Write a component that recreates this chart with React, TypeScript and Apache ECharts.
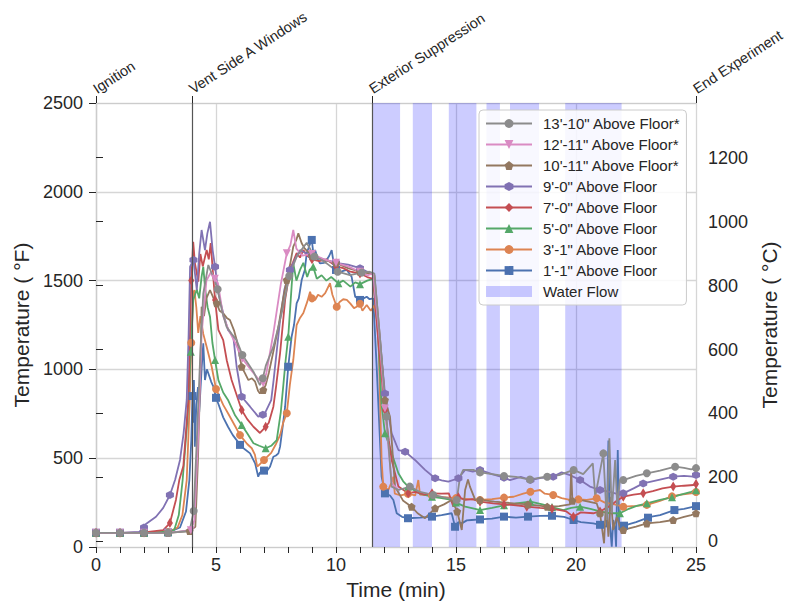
import React, { useEffect, useRef } from "react";
import * as echarts from "echarts";

// ---- Events (top axis) ----
const eventTimes = [0, 4, 11.5, 25];
const eventLabels = ["Ignition", "Vent Side A Windows", "Exterior Suppression", "End Experiment"];

// ---- Water flow intervals (min) ----
const waterFlow: [number, number][] = [
  [11.5, 12.67], [13.2, 14.0], [14.7, 15.85], [16.27, 16.83], [17.25, 18.46], [19.55, 21.9],
];

const fTicks = [0, 500, 1000, 1500, 2000, 2500];
const cTicks = [0, 200, 400, 600, 800, 1000, 1200];

// ---- Temperatures (°F) vs time (min) ----
const tc1_1: [number, number][] = [
  [0, 80], [1, 80], [2, 80], [3, 82], [3.5, 110], [3.75, 200], [3.89, 377], [3.97, 600], [4.02, 850], [4.05, 700],
  [4.08, 940], [4.12, 565], [4.18, 800], [4.25, 900], [4.3, 760], [4.4, 1000], [4.47, 1147], [4.54, 940], [4.62, 1000],
  [4.68, 978], [4.8, 930], [4.89, 903], [5, 840], [5.1, 805], [5.3, 730], [5.5, 677], [5.7, 630], [5.86, 602], [6, 575],
  [6.2, 550], [6.42, 527], [6.63, 471], [6.76, 396], [6.83, 420], [6.9, 415], [7, 430], [7.1, 424], [7.25, 452],
  [7.39, 508], [7.5, 515], [7.6, 527], [7.67, 565], [7.8, 700], [7.88, 790], [8.01, 1015], [8.15, 1184], [8.25, 1250],
  [8.36, 1372], [8.45, 1400], [8.57, 1503], [8.7, 1560], [8.78, 1654], [8.9, 1700], [8.99, 1729], [9.06, 1650],
  [9.13, 1672], [9.25, 1620], [9.33, 1597], [9.5, 1600], [9.61, 1616], [9.72, 1640], [9.82, 1672], [9.9, 1600],
  [10, 1560], [10.1, 1541], [10.3, 1555], [10.45, 1560], [10.65, 1522], [10.8, 1409], [11, 1391], [11.15, 1400],
  [11.28, 1409], [11.4, 1395], [11.55, 1400], [11.7, 1000], [11.9, 396], [12.04, 302], [12.25, 290], [12.39, 265],
  [12.53, 190], [12.75, 170], [13, 162], [13.5, 165], [14, 171], [14.4, 180], [14.82, 190], [14.96, 114], [15.1, 140],
  [15.24, 133], [15.45, 150], [15.65, 152], [16, 155], [16.5, 160], [17, 171], [17.5, 165], [18, 171], [18.5, 175],
  [19, 176], [19.5, 170], [19.9, 152], [20.2, 140], [20.72, 133], [21, 125], [21.28, 114], [21.35, 600], [21.4, 150],
  [21.49, 2], [21.55, 152], [21.63, 100], [21.67, 2], [21.74, 546], [21.8, 96], [21.9, 114], [22, 120], [22.5, 140],
  [23, 165], [23.15, 171], [23.5, 180], [24.1, 208], [24.5, 215], [25, 230],
];

const tc3_1: [number, number][] = [
  [0, 80], [1, 80], [2, 80], [3, 84], [3.4, 110], [3.6, 180], [3.78, 377], [3.9, 800], [3.97, 1150], [4.05, 1430],
  [4.1, 1447], [4.18, 1350], [4.26, 1205], [4.35, 1300], [4.47, 1200], [4.61, 1128], [4.82, 1015], [5, 890],
  [5.3, 800], [5.5, 753], [5.8, 680], [6, 630], [6.3, 580], [6.49, 556], [6.62, 520], [6.72, 452], [6.85, 470],
  [7, 490], [7.3, 530], [7.5, 580], [7.67, 630], [7.8, 700], [7.95, 753], [8.08, 916], [8.22, 1053], [8.36, 1250],
  [8.5, 1290], [8.64, 1318], [8.8, 1380], [8.92, 1437], [9, 1400], [9.13, 1391], [9.25, 1420], [9.4, 1409],
  [9.55, 1430], [9.75, 1485], [9.85, 1420], [10.03, 1353], [10.15, 1380], [10.3, 1395], [10.45, 1391], [10.6, 1370],
  [10.75, 1345], [10.86, 1353], [11, 1370], [11.1, 1330], [11.28, 1363], [11.45, 1330], [11.6, 1360], [11.76, 1240],
  [11.9, 490], [11.97, 340], [12.1, 330], [12.18, 321], [12.3, 360], [12.39, 396], [12.45, 300], [12.7, 290],
  [13, 300], [13.3, 290], [13.43, 377], [13.5, 295], [14, 290], [14.5, 280], [15, 275], [15.5, 270], [16, 265],
  [16.5, 270], [17, 278], [17.4, 283], [17.8, 300], [18.1, 311], [18.5, 321], [18.7, 300], [19.05, 293], [19.4, 275],
  [19.75, 265], [20.1, 268], [20.45, 265], [20.86, 274], [21.2, 250], [21.6, 240], [21.97, 227], [22.5, 232],
  [22.95, 237], [23.5, 260], [24, 285], [24.3, 293], [24.8, 302], [25, 310],
];

const tc5_0: [number, number][] = [
  [0, 80], [1, 80], [2, 80], [3, 86], [3.26, 96], [3.45, 180], [3.61, 377], [3.8, 700], [3.95, 1100], [4.05, 1391],
  [4.2, 1450], [4.3, 1400], [4.4, 1522], [4.47, 1578], [4.55, 1450], [4.65, 1350], [4.75, 1297], [4.85, 1150],
  [4.96, 1053], [5.1, 940], [5.3, 870], [5.5, 828], [5.8, 740], [6.07, 687], [6.3, 640], [6.56, 584], [6.8, 570],
  [7.07, 556], [7.3, 570], [7.53, 602], [7.7, 760], [7.8, 903], [7.9, 1050], [8.01, 1184], [8.15, 1466], [8.22, 1597],
  [8.35, 1500], [8.5, 1560], [8.64, 1600], [8.8, 1520], [8.9, 1560], [9.05, 1578], [9.2, 1510], [9.4, 1530],
  [9.6, 1500], [9.8, 1520], [10.1, 1485], [10.3, 1500], [10.6, 1466], [10.8, 1490], [11, 1480], [11.3, 1500],
  [11.55, 1510], [11.75, 1200], [11.9, 800], [12.04, 640], [12.2, 580], [12.32, 527], [12.6, 415], [12.8, 370],
  [13.01, 340], [13.5, 300], [14, 283], [14.4, 275], [14.82, 265], [15, 250], [15.38, 227], [15.8, 215], [16, 208],
  [16.5, 220], [17, 235], [17.5, 245], [18.1, 255], [18.6, 240], [19, 225], [19.47, 208], [19.8, 220], [20.17, 227],
  [20.6, 215], [21, 200], [21.4, 190], [21.83, 190], [22.2, 215], [22.5, 230], [22.95, 246], [23.5, 265], [24, 280],
  [24.33, 293], [24.8, 311], [25, 320],
];

const tc7_0: [number, number][] = [
  [0, 80], [1, 80], [2, 82], [2.8, 95], [3.08, 135], [3.33, 265], [3.47, 377], [3.64, 456], [3.85, 827], [3.97, 1500],
  [4.05, 1719], [4.12, 1600], [4.26, 1494], [4.35, 1650], [4.45, 1580], [4.61, 1672], [4.7, 1620], [4.78, 1711],
  [4.87, 1550], [4.96, 1391], [5.1, 1222], [5.3, 1165], [5.45, 1050], [5.65, 940], [5.85, 860], [6.07, 771],
  [6.3, 720], [6.56, 677], [6.83, 642], [7.07, 677], [7.2, 700], [7.39, 790], [7.5, 900], [7.67, 1092], [7.88, 1391],
  [8.08, 1560], [8.2, 1600], [8.36, 1655], [8.5, 1630], [8.64, 1672], [8.8, 1640], [9, 1620], [9.3, 1610], [9.6, 1620],
  [10, 1580], [10.3, 1570], [10.6, 1550], [11, 1540], [11.3, 1520], [11.55, 1510], [11.8, 1100], [12.04, 771],
  [12.2, 600], [12.32, 490], [12.6, 340], [13.01, 302], [13.3, 310], [13.7, 295], [14, 302], [14.4, 300], [14.7, 302],
  [14.89, 227], [15.1, 280], [15.38, 265], [15.7, 270], [16, 255], [16.55, 246], [17, 240], [17.5, 235], [17.95, 227],
  [18.5, 220], [19, 215], [19.33, 208], [19.6, 200], [19.89, 171], [20.2, 195], [20.72, 190], [21, 200], [21.4, 230],
  [21.7, 260], [21.97, 283], [22.4, 295], [22.8, 302], [23.2, 315], [23.6, 330], [24.05, 340], [24.5, 345],
  [24.9, 349], [25, 355],
];

const tc9_0: [number, number][] = [
  [0, 80], [1, 80], [1.8, 85], [2, 110], [2.08, 130], [2.5, 170], [2.8, 220], [3.08, 293], [3.3, 380], [3.5, 490],
  [3.65, 640], [3.78, 828], [3.86, 1200], [3.92, 1578], [4.06, 1616], [4.2, 1447], [4.3, 1650], [4.4, 1785],
  [4.54, 1672], [4.64, 1766], [4.75, 1831], [4.86, 1672], [4.96, 1578], [5.1, 1428], [5.3, 1316], [5.5, 1222],
  [5.72, 1184], [5.86, 1015], [6.07, 846], [6.42, 790], [6.76, 734], [6.95, 745], [7.07, 762], [7.3, 827], [7.4, 940],
  [7.67, 1278], [7.85, 1450], [8.08, 1560], [8.3, 1620], [8.5, 1672], [8.8, 1650], [9, 1640], [9.5, 1620], [10, 1600],
  [10.5, 1590], [11, 1570], [11.3, 1550], [11.55, 1540], [11.8, 1200], [12.04, 865], [12.32, 640], [12.6, 546],
  [12.88, 537], [13.29, 490], [13.71, 434], [14.13, 387], [14.4, 375], [14.68, 368], [15.1, 387], [15.38, 434],
  [15.7, 425], [16, 434], [16.5, 410], [17, 390], [17.25, 377], [17.7, 395], [18.1, 377], [18.6, 390], [19.05, 396],
  [19.4, 420], [19.75, 405], [20.17, 377], [20.58, 340], [21, 321], [21.4, 310], [21.83, 295], [21.97, 302],
  [22.4, 330], [22.8, 358], [23.5, 380], [24.05, 396], [24.5, 400], [24.9, 396], [25, 405],
];

const tc10_11: [number, number][] = [
  [0, 80], [1, 80], [2, 80], [3, 80], [3.9, 90], [4.14, 114], [4.25, 500], [4.35, 1000], [4.4, 1353], [4.5, 1300],
  [4.6, 1400], [4.75, 1447], [4.9, 1400], [5.03, 1372], [5.15, 1330], [5.3, 1316], [5.45, 1290], [5.58, 1278],
  [5.75, 1220], [5.86, 1165], [6.07, 1015], [6.2, 980], [6.35, 940], [6.5, 950], [6.63, 931], [6.75, 880], [6.83, 865],
  [6.97, 884], [7.07, 912], [7.2, 980], [7.39, 1100], [7.6, 1240], [7.8, 1400], [7.95, 1503], [8.1, 1600],
  [8.22, 1691], [8.35, 1730], [8.43, 1766], [8.57, 1710], [8.7, 1680], [9, 1640], [9.5, 1615], [10, 1600],
  [10.5, 1570], [11, 1550], [11.4, 1540], [11.6, 1530], [11.85, 1150], [12.04, 828], [12.25, 734], [12.46, 340],
  [12.8, 260], [13.15, 227], [13.4, 190], [13.71, 162], [14.13, 218], [14.5, 240], [14.82, 265], [15.05, 200],
  [15.24, 96], [15.38, 321], [15.5, 380], [15.58, 340], [15.8, 265], [16, 265], [16.6, 255], [17.4, 246], [18, 240],
  [18.8, 227], [19.3, 230], [19.75, 240], [19.8, 434], [19.85, 260], [20.17, 265], [20.86, 246], [21, 190],
  [21.17, 21], [21.25, 265], [21.35, 58], [21.45, 283], [21.55, 96], [21.7, 171], [21.83, 114], [21.97, 96],
  [22.5, 115], [22.95, 133], [23.5, 140], [24.05, 152], [24.5, 170], [24.8, 180], [25, 190],
];

const tc12_11: [number, number][] = [
  [0, 80], [1, 80], [2, 80], [3, 80], [3.95, 95], [4.1, 150], [4.25, 600], [4.4, 1200], [4.6, 1500], [4.8, 1550],
  [4.95, 1510], [5.08, 1486], [5.3, 1300], [5.5, 1230], [5.8, 1150], [6.1, 1060], [6.5, 990], [6.8, 940],
  [6.97, 922], [7.1, 980], [7.39, 1203], [7.7, 1480], [7.95, 1654], [8.1, 1700], [8.22, 1785], [8.35, 1680],
  [8.6, 1640], [9, 1650], [9.5, 1620], [10, 1600], [10.5, 1580], [11, 1550], [11.3, 1530], [11.55, 1540],
  [11.8, 1200], [12.04, 780], [12.32, 360], [12.6, 321],
];

const tc13_10: [number, number][] = [
  [0, 80], [1, 80], [2, 80], [3, 80], [3.9, 90], [4.07, 203], [4.2, 600], [4.35, 1100], [4.47, 1428], [4.68, 1588],
  [4.85, 1530], [5.07, 1451], [5.25, 1330], [5.44, 1240], [5.65, 1200], [5.86, 1165], [6.1, 1081], [6.35, 1030],
  [6.56, 987], [6.83, 912], [6.95, 950], [7.08, 1023], [7.39, 1128], [7.6, 1240], [7.8, 1353], [8.05, 1526],
  [8.36, 1635], [8.6, 1680], [8.78, 1713], [9.1, 1635], [9.35, 1620], [9.61, 1597], [10.07, 1550], [10.58, 1531],
  [11.07, 1545], [11.4, 1550], [11.6, 1540], [11.85, 1150], [12.1, 734], [12.32, 340], [12.6, 321], [13.08, 340],
  [13.5, 310], [14.05, 293], [14.5, 280], [15.03, 265], [15.17, 396], [15.3, 434], [15.72, 434], [16, 420],
  [16.5, 410], [17, 400], [17.5, 395], [18.08, 380], [18.5, 390], [18.8, 396], [19.3, 405], [19.9, 434], [20.3, 410],
  [20.7, 471], [20.8, 283], [21.14, 527], [21.28, 152], [21.39, 612], [21.49, 190], [21.63, 490], [21.72, 227],
  [21.83, 377], [21.97, 377], [22.5, 400], [22.95, 415], [23.5, 430], [24.13, 452], [24.5, 445], [24.8, 437],
  [25, 444],
];

const F_MIN = 0;
const F_MAX = 2500;
const toC = (f: number) => ((f - 32) * 5) / 9;

const markerIndices = (data: [number, number][]) => {
  const s = new Set<number>();
  for (let k = 0; k <= 25; k++) {
    let best = -1;
    let bd = Infinity;
    data.forEach(([t], i) => {
      const d = Math.abs(t - k);
      if (d < bd) { bd = d; best = i; }
    });
    if (bd <= 0.2) s.add(best);
  }
  return s;
};

const pentagon = "path://M0,-1 L0.951,-0.309 L0.588,0.809 L-0.588,0.809 L-0.951,-0.309 Z";
const hexagon = "path://M0,-1 L0.866,-0.5 L0.866,0.5 L0,1 L-0.866,0.5 L-0.866,-0.5 Z";

// plot order (bottom to top)
const seriesDefs = [
  { name: `1'-1" Above Floor`, data: tc1_1, color: "#4C72B0", symbol: "rect", size: 8 as any, rotate: 0 },
  { name: `3'-1" Above Floor`, data: tc3_1, color: "#DD8452", symbol: "circle", size: 8 as any, rotate: 0 },
  { name: `5'-0" Above Floor`, data: tc5_0, color: "#55A868", symbol: "triangle", size: 8 as any, rotate: 0 },
  { name: `7'-0" Above Floor`, data: tc7_0, color: "#C44E52", symbol: "diamond", size: [6, 10] as any, rotate: 0 },
  { name: `9'-0" Above Floor`, data: tc9_0, color: "#8172B3", symbol: hexagon, size: 8 as any, rotate: 0 },
  { name: `10'-11" Above Floor*`, data: tc10_11, color: "#937860", symbol: pentagon, size: 8 as any, rotate: 0 },
  { name: `12'-11" Above Floor*`, data: tc12_11, color: "#DA8BC3", symbol: "triangle", size: 8 as any, rotate: 180 },
  { name: `13'-10" Above Floor*`, data: tc13_10, color: "#8C8C8C", symbol: "circle", size: 8 as any, rotate: 0 },
];

const BAND = "rgba(0,0,255,0.2)";
const TXT = "#262626";
const SPINE = "#cccccc";
const GRID = "#d6d6d6";

export default function App() {
  const ref = useRef<HTMLDivElement>(null);
  useEffect(() => {
    document.body.style.margin = "0";
    if (!ref.current) return;
    const chart = echarts.init(ref.current, undefined, { renderer: "svg" });
    const font = "'Liberation Sans', Arial, sans-serif";
    const plain = (v: number) => String(v);

    const lineSeries = seriesDefs.map((d) => {
      const marks = markerIndices(d.data);
      return {
        type: "line",
        name: d.name,
        data: d.data,
        xAxisIndex: 0,
        yAxisIndex: 0,
        symbol: d.symbol,
        symbolRotate: d.rotate,
        showSymbol: true,
        showAllSymbol: true,
        symbolSize: (_v: any, p: any) => (marks.has(p.dataIndex) ? d.size : 0),
        lineStyle: { width: 1.8, color: d.color },
        itemStyle: { color: d.color },
        silent: true,
        emphasis: { disabled: true },
      };
    });

    const option: any = {
      animation: false,
      textStyle: { fontFamily: font },
      grid: { left: 96, right: 92, top: 103, bottom: 60, outerBoundsMode: "none", containLabel: false },
      xAxis: [
        {
          type: "value",
          min: 0,
          max: 25,
          interval: 5,
          position: "bottom",
          name: "Time (min)",
          nameLocation: "middle",
          nameGap: 31,
          nameTextStyle: { fontSize: 21, color: TXT, fontFamily: font },
          axisLine: { show: true, onZero: false, lineStyle: { color: SPINE, width: 1.2 } },
          axisTick: { show: true, length: 6, lineStyle: { color: TXT } },
          minorTick: { show: true, splitNumber: 5, length: 6, lineStyle: { color: TXT } },
          axisLabel: { fontSize: 18, color: TXT, margin: 9, fontFamily: font, formatter: plain },
          splitLine: { show: true, lineStyle: { color: GRID, width: 1.3 } },
        },
        {
          type: "value",
          min: 0,
          max: 25,
          position: "top",
          axisLine: { show: true, onZero: false, lineStyle: { color: SPINE, width: 1.2 } },
          axisTick: { show: true, length: 7, customValues: eventTimes, lineStyle: { color: TXT } },
          axisLabel: {
            show: true,
            customValues: eventTimes,
            rotate: -33,
            align: "left",
            verticalAlign: "bottom",
            padding: [0, 0, 0, 3],
            margin: 5,
            fontSize: 14.5,
            color: TXT,
            fontFamily: font,
            formatter: (v: number) => {
              const i = eventTimes.indexOf(v);
              return i >= 0 ? eventLabels[i] : "";
            },
          },
          splitLine: { show: false },
        },
      ],
      yAxis: [
        {
          type: "value",
          min: F_MIN,
          max: F_MAX,
          interval: 500,
          position: "left",
          name: "Temperature ( °F)",
          nameLocation: "middle",
          nameGap: 62,
          nameTextStyle: { fontSize: 21, color: TXT, fontFamily: font },
          axisLine: { show: true, lineStyle: { color: SPINE, width: 1.2 } },
          axisTick: { show: true, length: 7, lineStyle: { color: TXT } },
          axisLabel: { fontSize: 18, color: TXT, margin: 13, fontFamily: font, customValues: fTicks, formatter: plain },
          splitLine: { show: true, lineStyle: { color: GRID, width: 1.3 } },
        },
        {
          type: "value",
          min: toC(F_MIN),
          max: toC(F_MAX),
          position: "right",
          name: "Temperature ( °C)",
          nameLocation: "middle",
          nameGap: 58,
          nameTextStyle: { fontSize: 21, color: TXT, fontFamily: font },
          axisLine: { show: true, lineStyle: { color: SPINE, width: 1.2 } },
          axisTick: { show: true, length: 7, customValues: cTicks, lineStyle: { color: TXT } },
          axisLabel: { fontSize: 18, color: TXT, margin: 12, fontFamily: font, customValues: cTicks, formatter: plain },
          splitLine: { show: false },
        },
      ],
      legend: {
        orient: "vertical",
        left: 479,
        top: 110,
        padding: [6, 6, 6, 6],
        itemWidth: 46,
        itemHeight: 11,
        itemGap: 6,
        backgroundColor: "rgba(255,255,255,0.85)",
        borderColor: "#cccccc",
        borderWidth: 1,
        borderRadius: 4,
        textStyle: { fontSize: 15, color: TXT, fontFamily: font, padding: [0, 0, 0, 6] },
        data: [
          ...seriesDefs.slice().reverse().map((d) => ({ name: d.name })),
          { name: "Water Flow", icon: "rect" },
        ],
      },
      series: [
        {
          type: "line",
          name: "Water Flow",
          data: [],
          xAxisIndex: 0,
          yAxisIndex: 0,
          itemStyle: { color: BAND },
          lineStyle: { color: BAND },
          silent: true,
          markArea: {
            silent: true,
            itemStyle: { color: BAND, borderWidth: 0 },
            data: waterFlow.map(([a, b]) => [{ xAxis: a }, { xAxis: b }]),
          },
          markLine: {
            silent: true,
            symbol: ["none", "none"],
            label: { show: false },
            lineStyle: { color: "#555555", width: 1.2, type: "solid" },
            data: eventTimes.filter((t) => t > 0 && t < 25).map((t) => ({ xAxis: t })),
          },
        },
        ...lineSeries,
      ],
    };
    chart.setOption(option);
    return () => chart.dispose();
  }, []);
  return <div ref={ref} style={{ width: 788, height: 607 }} />;
}
